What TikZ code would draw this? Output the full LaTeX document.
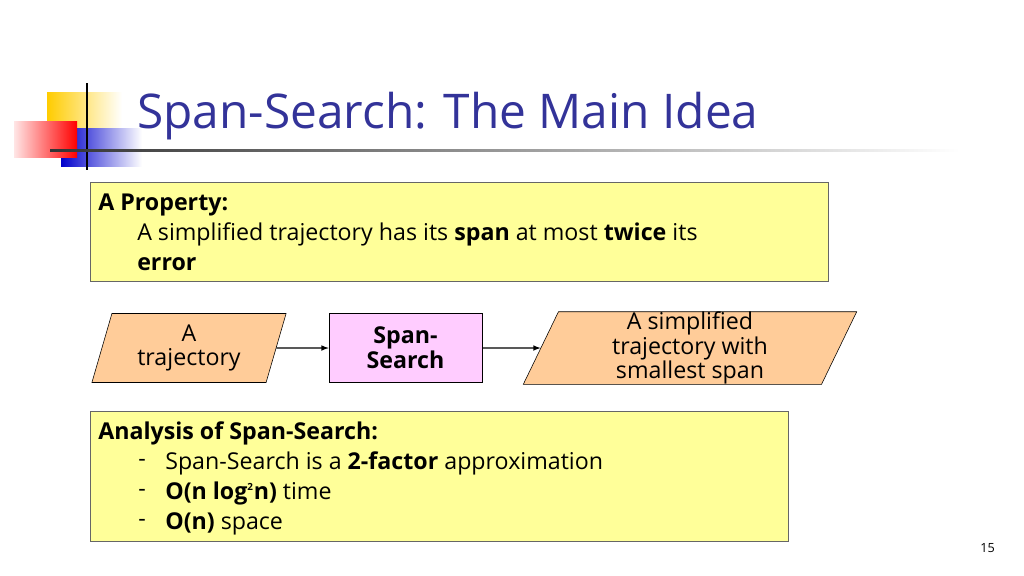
\documentclass[tikz,border=0pt]{standalone}
\usepackage{fontspec}
\setmainfont{Open Sans}
\usetikzlibrary{shapes.geometric,positioning}
\definecolor{titleblue}{RGB}{51,51,153}
\definecolor{boxyellow}{RGB}{255,255,153}
\definecolor{peach}{RGB}{255,204,153}
\definecolor{pinkbox}{RGB}{255,204,255}
\definecolor{gold}{RGB}{255,204,0}
\begin{document}
\begin{tikzpicture}[x=0.025cm,y=-0.025cm]
    \tikzset{
        panel/.style = {draw=black!60, fill=boxyellow},
        line/.style = {draw, thick, -latex},
        body/.style = {anchor=base west, inner sep=0pt, font=\fontsize{16.5}{18}\selectfont},
        io/.style = {trapezium, trapezium left angle=74, trapezium right angle=106, trapezium stretches,
            draw, fill=peach, minimum height=69*0.025cm, align=center, inner sep=0pt,
            font=\fontsize{16.5}{17.5}\selectfont}
    }
    \useasboundingbox (0,0) rectangle (1024,575);
    % logo
    \shade[left color=gold, right color=white] (47,92) rectangle (122,128);
    \shade[left color=blue!80!black, right color=white] (61,128) rectangle (142,166);
    \shade[left color=red!10, right color=red] (14,121) rectangle (77,157);
    \draw[thick] (87,83) -- (87,170);
    \shade[left color=black!80, right color=white] (50,149) rectangle (960,151);
    \node[anchor=base west, inner sep=0pt, text=titleblue, font=\fontsize{34}{36}\selectfont] (title) at (137,128) {Span-Search: The Main Idea};
    % property
    \draw[panel] (90,182) rectangle (828,281);
    \node[body] (prop) at (98,210) {\textbf{A Property:}};
    \node[body] (prop1) at (137,240) {A simplified trajectory has its \textbf{span} at most \textbf{twice} its};
    \node[body] (prop2) at (137,270) {\textbf{error}};
    % flow
    \node[io, minimum width=196*0.025cm] (traj) at (189,348) {A\\trajectory};
    \node[draw, fill=pinkbox, minimum width=153*0.025cm, minimum height=69*0.025cm, align=center,
        font=\bfseries\fontsize{16.5}{18}\selectfont] (span) at (405.5,348) {Span-\\Search};
    \node[io, minimum width=334*0.025cm] (simp) at (690,348) {A simplified\\trajectory with\\smallest span};
    \path[line] (traj) -- (span);
    \path[line] (span) -- (simp);
    % analysis
    \draw[panel] (90,411) rectangle (788,541);
    \node[body] (ana) at (98,439) {\textbf{Analysis of Span-Search:}};
    \foreach \y/\t in {469/{Span-Search is a \textbf{2-factor} approximation},
                       499/{\textbf{O(n log\textsuperscript{\scriptsize 2}n)} time},
                       529/{\textbf{O(n)} space}} {
        \node[body] at (138,\y-3) {-};
        \node[body] at (165,\y) {\t};
    }
    \node[anchor=base east, inner sep=0pt, font=\small] (page) at (995,552) {15};
\end{tikzpicture}
\end{document}
